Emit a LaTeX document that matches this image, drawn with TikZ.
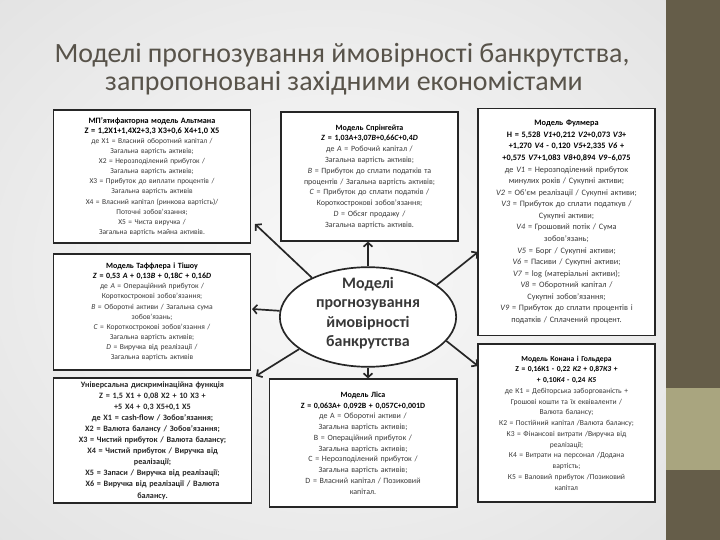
\documentclass[tikz,border=0pt]{standalone}
\usepackage{fontspec}
\setmainfont{Carlito}
\usetikzlibrary{shapes.geometric,arrows.meta}
\definecolor{bgbar}{HTML}{655D49}
\definecolor{bgband}{HTML}{A9A57F}
\definecolor{titlecol}{HTML}{58534A}
\definecolor{txt}{HTML}{3A3A3A}
\definecolor{edgecol}{HTML}{262626}
\pgfdeclareradialshading{bgshade}{\pgfpoint{0bp}{0bp}}{color(0bp)=(white!97!black); color(12bp)=(white!95!black); color(72bp)=(black!20)}
\tikzset{
  box/.style={draw=edgecol, line width=1.7pt, fill=white, align=center, inner sep=1pt, text=txt},
  arr/.style={draw=edgecol, line width=1.7pt, -{Straight Barb[length=4pt,width=9pt]}},
  titletext/.style={text=titlecol, font=\fontsize{28}{28}\selectfont, inner sep=0pt},
}
\newcommand{\hd}[1]{{\bfseries\color{black}#1}}
\begin{document}
\begin{tikzpicture}[x=1bp,y=-1bp]
\useasboundingbox (0,0) rectangle (720,540);
\shade[shading=bgshade] (0,0) rectangle (666,540);
\fill[bgbar] (666,0) rectangle (720,540);
\fill[bgband] (666,388) rectangle (720,470);

\node[titletext, anchor=base] (t1) at (342,63) {Моделі прогнозування ймовірності банкрутства,};
\node[titletext, anchor=base] (t2) at (344,91) {запропоновані західними економістами};

\node[box, minimum width=198, minimum height=133, text width=194,
      font=\fontsize{7.5}{10.1}\selectfont] (b1) at (152,176.5) {%
{\fontsize{8.2}{10.1}\selectfont\hd{МП'ятифакторна модель Альтмана}}\\
{\fontsize{8.4}{10.1}\selectfont\hd{Z = 1,2X1+1,4X2+3,3 X3+0,6 X4+1,0 X5}}\\
де X1 = Власний оборотний капітал /\\
Загальна вартість активів;\\
X2 = Нерозподілений прибуток /\\
Загальна вартість активів;\\
X3 = Прибуток до виплати процентів /\\
Загальна вартість активів\\
X4 = Власний капітал (ринкова вартість)/\\
Поточні зобов'язання;\\
X5 = Чиста виручка /\\
Загальна вартість майна активів.};

\node[box, minimum width=177, minimum height=129, text width=173,
      font=\fontsize{8}{10.8}\selectfont] (b2) at (369.5,176.5) {%
\hd{Модель Спрінгейта}\\
\hd{\textit{Z} = 1,03\textit{A}+3,07\textit{B}+0,66\textit{C}+0,4\textit{D}}\\
де \textit{A} = Робочий капітал /\\
Загальна вартість активів;\\
\textit{B} = Прибуток до сплати податків та\\
процентів / Загальна вартість активів;\\
\textit{C} = Прибуток до сплати податків /\\
Короткострокові зобов'язання;\\
\textit{D} = Обсяг продажу /\\
Загальна вартість активів.};

\node[box, minimum width=177, minimum height=228, text width=173,
      font=\fontsize{8.3}{11.6}\selectfont] (b3) at (566.5,222) {%
\hd{Модель Фулмера}\\
\hd{H = 5,528 \textit{V1}+0,212 \textit{V2}+0,073 \textit{V3}+}\\
\hd{+1,270 \textit{V4} - 0,120 \textit{V5}+2,335 \textit{V6} +}\\
\hd{+0,575 \textit{V7}+1,083 \textit{V8}+0,894 \textit{V9}–6,075}\\
де \textit{V1} = Нерозподілений прибуток\\
минулих років / Сукупні активи;\\
\textit{V2} = Об'єм реалізації / Сукупні активи;\\
\textit{V3} = Прибуток до сплати податкув /\\
Сукупні активи;\\
\textit{V4} = Грошовий потік / Сума\\
зобов'язань;\\
\textit{V5} = Борг / Сукупні активи;\\
\textit{V6} = Пасиви / Сукупні активи;\\
\textit{V7} = log (матеріальні активи);\\
\textit{V8} = Оборотний капітал /\\
Сукупні зобов'язання;\\
\textit{V9} = Прибуток до сплати процентів і\\
податків / Сплачений процент.};

\node[box, minimum width=198, minimum height=116, text width=194,
      font=\fontsize{7.6}{10.2}\selectfont] (b4) at (152,312) {%
{\fontsize{8}{10.2}\selectfont\hd{Модель Таффлера і Тішоу}}\\
{\fontsize{8}{10.2}\selectfont\hd{\textit{Z} = 0,53 \textit{A} + 0,13\textit{B} + 0,18\textit{C} + 0,16\textit{D}}}\\
де \textit{A} = Операційний прибуток /\\
Короткострокові зобов'язання;\\
\textit{B} = Оборотні активи / Загальна сума\\
зобов'язань;\\
\textit{C} = Короткострокові зобов'язання /\\
Загальна вартість активів;\\
\textit{D} = Виручка від реалізації /\\
Загальна вартість активів};

\node[box, minimum width=199, minimum height=125, text width=197, text=black!85,
      font=\bfseries\fontsize{8.2}{11.1}\selectfont] (b5) at (152.5,440.5) {%
Універсальна дискримінаційна функція\\
Z = 1,5 X1 + 0,08 X2 + 10 X3 +\\
+5 X4 + 0,3 X5+0,1 X5\\
де X1 = cash-flow / Зобов'язання;\\
X2 = Валюта балансу / Зобов'язання;\\
X3 = Чистий прибуток / Валюта балансу;\\
X4 = Чистий прибуток / Виручка від\\
реалізації;\\
X5 = Запаси / Виручка від реалізації;\\
X6 = Виручка від реалізації / Валюта\\
балансу.};

\node[box, minimum width=188, minimum height=128, text width=184,
      font=\fontsize{8}{10.8}\selectfont] (b6) at (363,443) {%
\hd{Модель Ліса}\\
\hd{Z = 0,063A+ 0,092B + 0,057C+0,001D}\\
де А = Оборотні активи /\\
Загальна вартість активів;\\
В = Операційний прибуток /\\
Загальна вартість активів;\\
С = Нерозподілений прибуток /\\
Загальна вартість активів;\\
D = Власний капітал / Позиковий\\
капітал.};

\node[box, minimum width=177, minimum height=158, text width=175,
      font=\fontsize{7.6}{10.8}\selectfont] (b7) at (566.5,423) {%
\hd{Модель Конана і Гольдера}\\
\hd{Z = 0,16К1 - 0,22 \textit{К2} + 0,87\textit{К3} +}\\
\hd{+ 0,10\textit{К4} - 0,24 \textit{К5}}\\
де К1 = Дебіторська заборгованість +\\
Грошові кошти та їх еквіваленти /\\
Валюта балансу;\\
К2 = Постійний капітал /Валюта балансу;\\
К3 = Фінансові витрати /Виручка від\\
реалізації;\\
К4 = Витрати на персонал /Додана\\
вартість;\\
К5 = Валовий прибуток /Позиковий\\
капітал};

\node[ellipse, draw=edgecol, line width=1.7pt, fill=white, minimum width=177,
      minimum height=100, inner sep=0pt] (ell) at (368,317) {};
\node[align=center, text=black!78, font=\bfseries\fontsize{16}{19.5}\selectfont,
      inner sep=0pt] (elltxt) at (368,313) {Моделі\\прогнозування\\ймовірності\\банкрутства};

\coordinate (e1) at (255,224);
\coordinate (e3) at (478,252);
\coordinate (e4) at (252,309);
\coordinate (e5) at (256,376);
\coordinate (e7) at (478,366);
\draw[arr] (ell.145) -- (e1);
\draw[arr] (ell.north) -- (ell.north |- b2.south);
\draw[arr] (ell.25) -- (e3);
\draw[arr] (ell.176) -- (e4);
\draw[arr] (ell.205) -- (e5);
\draw[arr] (ell.south) -- (ell.south |- b6.north);
\draw[arr] (ell.-17) -- (e7);
\end{tikzpicture}
\end{document}
